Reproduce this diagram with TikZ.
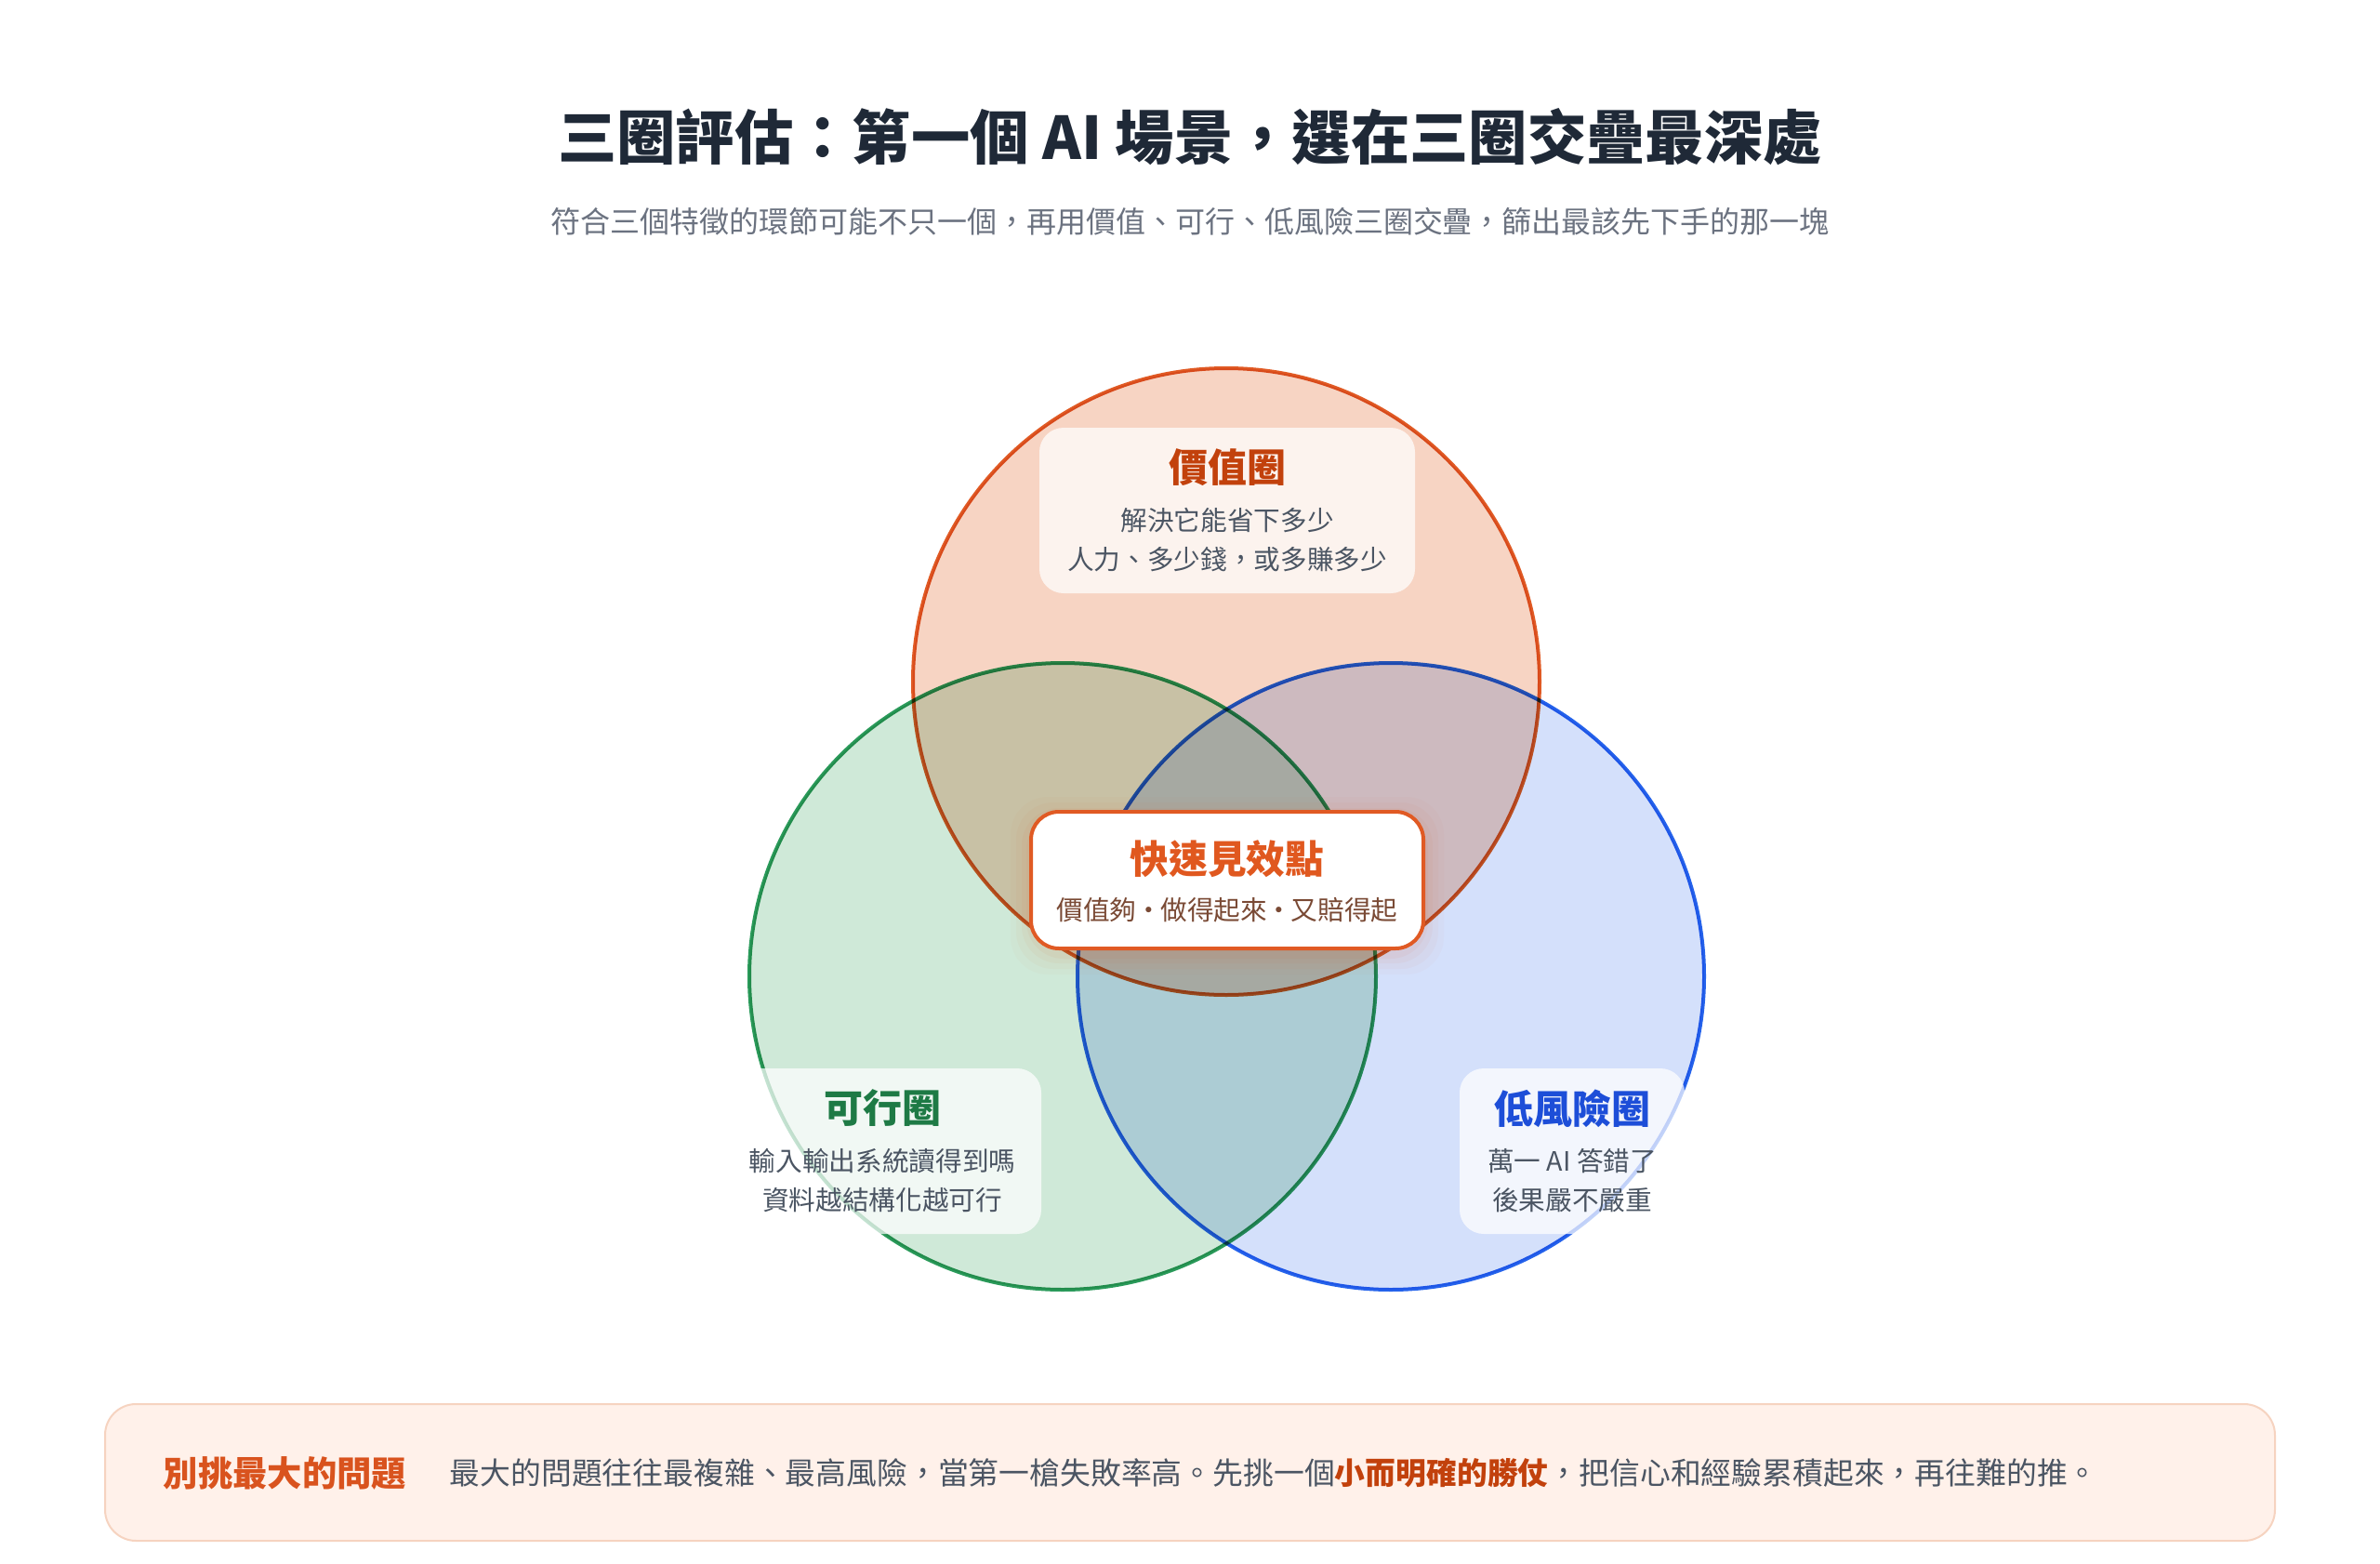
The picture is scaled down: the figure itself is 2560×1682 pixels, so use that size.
\documentclass[tikz,border=0pt]{standalone}
\usepackage{fontspec}
\setmainfont{Noto Sans CJK TC}
\definecolor{ink}{HTML}{1F2937}
\definecolor{subgray}{HTML}{6B7280}
\definecolor{bodygray}{HTML}{4B5563}
\definecolor{vfill}{HTML}{F7D4C3}
\definecolor{vline}{HTML}{E05A24}
\definecolor{vtext}{HTML}{C2410C}
\definecolor{gfill}{HTML}{CFE9D8}
\definecolor{gline}{HTML}{2A9A5A}
\definecolor{gtext}{HTML}{1E7A45}
\definecolor{bfill}{HTML}{D4E0FB}
\definecolor{bline}{HTML}{2563EB}
\definecolor{btext}{HTML}{1D4ED8}
\definecolor{ctext}{HTML}{E0581F}
\definecolor{csub}{HTML}{7A4A35}
\definecolor{notefill}{HTML}{FFF1EA}
\definecolor{noteline}{HTML}{F6D3C0}
\definecolor{notehead}{HTML}{D9531E}
\newcommand{\middot}{\makebox[0.9em]{·}}
\tikzset{
  ring/.style={circle, draw=#1, line width=1.2pt, minimum size=202.2pt, inner sep=0pt},
  labelbox/.style={rounded corners=7.8pt, fill=white, fill opacity=0.72, draw=none},
  circtitle/.style={font=\fontsize{12.6}{15}\selectfont\bfseries, text=#1},
  circbody/.style={font=\fontsize{8.6}{12.6}\selectfont, text=bodygray, align=center},
}
\begin{document}
\begin{tikzpicture}[x=0.3pt, y=-0.3pt]
\useasboundingbox[fill=white] (0,0) rectangle (2560,1682);

% title and subtitle
\node[font=\fontsize{19}{22}\selectfont\bfseries, text=ink] (title) at (1280,147) {三圈評估：第一個 AI 場景，選在三圈交疊最深處};
\node[font=\fontsize{9.6}{12}\selectfont, text=subgray] (subtitle) at (1280,238) {符合三個特徵的環節可能不只一個，再用價值、可行、低風險三圈交疊，篩出最該先下手的那一塊};

% circles
\begin{scope}[blend group=multiply]
  \node[ring=vline, fill=vfill] (vc) at (1319,733) {};
  \node[ring=gline, fill=gfill] (gc) at (1143,1050) {};
  \node[ring=bline, fill=bfill] (bc) at (1496,1050) {};
\end{scope}

% value label
\path[labelbox] (1118,460) rectangle (1522,638);
\node[circtitle=vtext] (vt) at (1320,503) {價值圈};
\node[circbody] (vb) at (1320,581) {解決它能省下多少\\人力、多少錢，或多賺多少};

% feasible label
\path[labelbox] (778,1149) rectangle (1120,1327);
\node[circtitle=gtext] (gt) at (949,1192) {可行圈};
\node[circbody] (gb) at (949,1270) {輸入輸出系統讀得到嗎\\資料越結構化越可行};

% low risk label
\path[labelbox] (1570,1149) rectangle (1812,1327);
\node[circtitle=btext] (bt) at (1691,1192) {低風險圈};
\node[circbody] (bb) at (1691,1270) {萬一 AI 答錯了\\後果嚴不嚴重};

% center box with soft glow
\foreach \g/\o in {22/0.025,16/0.035,10/0.045,5/0.05}{
  \path[fill=vline, opacity=\o, rounded corners=12pt] (1109-\g,873-\g+6) rectangle (1531+\g,1020+\g+6);
}
\node[draw=vline, line width=1.2pt, fill=white, rounded corners=9pt, minimum width=126.6pt, minimum height=44.1pt, inner sep=0pt] (center) at (1320,946.5) {};
\node[font=\fontsize{12.5}{15}\selectfont\bfseries, text=ctext] (ct) at (1320,924) {快速見效點};
\node[font=\fontsize{8.6}{11}\selectfont, text=csub] (cs) at (1320,979) {價值夠\middot 做得起來\middot 又賠得起};

% bottom note
\node[draw=noteline, line width=0.6pt, fill=notefill, rounded corners=10pt, minimum width=700.2pt, minimum height=44.1pt, inner sep=0pt] (note) at (1280,1583.5) {};
\node[anchor=west, font=\fontsize{11.2}{14}\selectfont\bfseries, text=notehead] (nh) at (164,1584) {別挑最大的問題};
\node[anchor=west, font=\fontsize{9.85}{12}\selectfont, text=bodygray] (nb) at (472,1584) {最大的問題往往最複雜、最高風險，當第一槍失敗率高。先挑一個{\bfseries\color{vtext}小而明確的勝仗}，把信心和經驗累積起來，再往難的推。};
\end{tikzpicture}
\end{document}
